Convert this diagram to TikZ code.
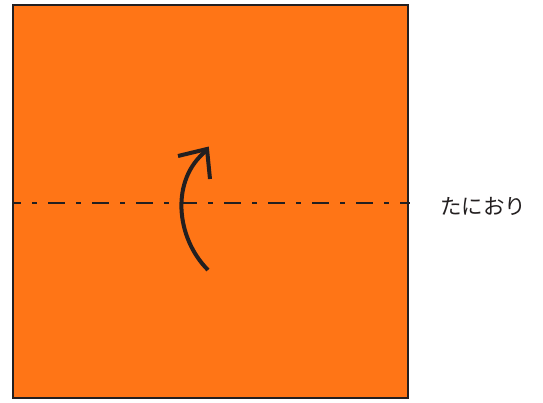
\documentclass[tikz,border=0pt]{standalone}
\usepackage{fontspec}
\newfontfamily\jpfont{Noto Sans CJK JP}
\definecolor{paper}{RGB}{255,117,22}
\definecolor{ink}{RGB}{35,31,32}
\begin{document}
\begin{tikzpicture}[x=1pt,y=-1pt]
	\useasboundingbox (0,0) rectangle (543,403);
	% Papier
	\draw[fill=paper,draw=ink,line width=1.6pt] (13,5) rectangle (408,398);
	% Talfalte
	\coordinate (fl) at (13,203);
	\coordinate (fr) at (410,203);
	\draw[ink,line width=1.4pt,dash pattern=on 17pt off 11pt on 5pt off 11pt,dash phase=9pt] (fl)--(fr);
	\node[font=\jpfont\fontsize{21.5}{21.5}\selectfont,text=ink] (tani) at (483,206) {たにおり};
	% Pfeil (nach oben klappen)
	\draw[ink,line width=4pt] (208,270) .. controls (176,238) and (170,180) .. (206,151);
	\draw[ink,line width=4pt,line join=miter] (178,156)--(207,149)--(210,179);
\end{tikzpicture}
\end{document}
